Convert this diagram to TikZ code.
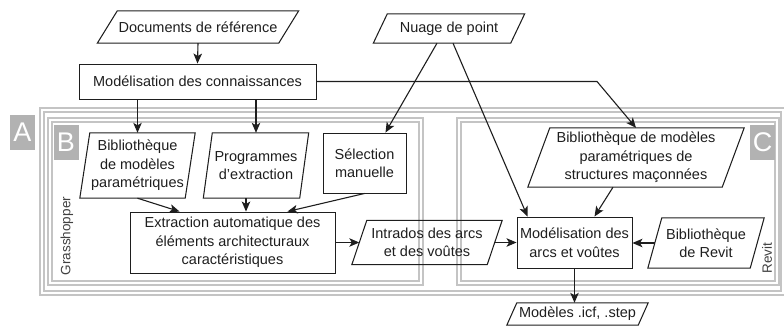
\documentclass[tikz,border=0pt]{standalone}
\usepackage{fontspec}
\setmainfont{Liberation Sans}
\usetikzlibrary{arrows.meta}
\definecolor{framegray}{HTML}{C4C4C4}
\definecolor{labgray}{HTML}{B2B2B2}
\definecolor{ink}{HTML}{1E1E1E}
\newcommand\parabox[2]{\draw[boxline] ([xshift=#2]#1.north west) -- ([xshift=#2]#1.north east) -- ([xshift=-#2]#1.south east) -- ([xshift=-#2]#1.south west) -- cycle;}
\tikzset{
  txt/.style={font=\fontsize{14.5}{18.5}\selectfont, text=ink, align=center, inner sep=0pt},
  pbox/.style={txt, rectangle, draw=none},
  rbox/.style={txt, rectangle, draw=ink, line width=0.95pt},
  boxline/.style={draw=ink, line width=1.05pt},
  conn/.style={draw=ink, line width=1.1pt, -{Stealth[length=10pt,width=8.5pt,inset=2.5pt]}},
  frame/.style={draw=framegray, line width=1.8pt, double=white, double distance=1.8pt},
  labbox/.style={fill=labgray, draw=none, text=white, font=\fontsize{27}{27}\selectfont, minimum width=25pt, minimum height=35pt, inner sep=0pt},
  sidelab/.style={font=\fontsize{13.5}{16}\selectfont, text=ink!85, rotate=90, inner sep=0pt}
}
\begin{document}
\begin{tikzpicture}[x=1pt,y=-1pt]
\useasboundingbox (0,0) rectangle (784,329);
% frames
\draw[frame] (42,110) rectangle (783,293);
\draw[frame] (50,120) rectangle (421,283);
\draw[frame] (459,120) rectangle (777,283);
\node[labbox] (labA) at (22.5,132) {A};
\node[labbox] (labB) at (66,142) {B};
\node[labbox] (labC) at (762.5,142) {C};
\node[sidelab] (gh) at (67,236) {Grasshopper};
\node[sidelab] (rv) at (767,258) {Revit};
% nodes
\node[pbox, minimum width=181pt, minimum height=32pt] (doc) at (198,27) {Documents de référence};
\parabox{doc}{10}
\node[pbox, minimum width=137pt, minimum height=29pt] (nuage) at (449,28.5) {Nuage de point};
\parabox{nuage}{7}
\node[rbox, minimum width=237pt, minimum height=35pt] (modcon) at (197.5,81.5) {Modélisation des connaissances};
\node[pbox, minimum width=105pt, minimum height=65pt] (bibl) at (137.5,165.5) {Bibliothèque\\de modèles\\paramétriques};
\parabox{bibl}{5}
\node[pbox, minimum width=96pt, minimum height=65pt] (prog) at (256,165.5) {Programmes\\d'extraction};
\parabox{prog}{4.5}
\node[rbox, minimum width=83pt, minimum height=60pt] (sel) at (364.5,163) {Sélection\\manuelle};
\node[rbox, minimum width=205pt, minimum height=61pt] (extr) at (232.5,242.5) {Extraction automatique des\\éléments architecturaux\\caractéristiques};
\node[pbox, minimum width=135pt, minimum height=44pt] (intr) at (427,242.5) {Intrados des arcs\\et des voûtes};
\parabox{intr}{7.5}
\node[rbox, minimum width=115pt, minimum height=51pt] (modarc) at (574.5,242.5) {Modélisation des\\arcs et voûtes};
\node[pbox, minimum width=102pt, minimum height=50pt] (revit) at (706,243) {Bibliothèque\\de Revit};
\parabox{revit}{7}
\node[pbox, minimum width=194pt, minimum height=59pt] (bibstr) at (636,157.5) {Bibliothèque de modèles\\paramétriques de\\structures maçonnées};
\parabox{bibstr}{11}
\node[pbox, minimum width=131pt, minimum height=22pt] (modeles) at (577.5,314) {Modèles .icf, .step};
\parabox{modeles}{5}
% connectors
\coordinate (k1) at (597,81.5);
\draw[conn] (doc.south) -- (modcon.north);
\draw[conn] (modcon.south -| bibl.north) -- (bibl.north);
\draw[conn] (modcon.south -| prog.north) -- (prog.north);
\draw[conn] (modcon.east) -- (k1) -- (bibstr.north);
\draw[conn] ([xshift=-12]nuage.south) -- ([xshift=-21]sel.north east);
\draw[conn] ([xshift=4]nuage.south) -- ([xshift=11]modarc.north west);
\draw[conn] (bibl.south) -- ([xshift=50]extr.north west);
\draw[conn] ([xshift=-10]prog.south) -- ([xshift=-10]prog.south |- extr.north);
\draw[conn] (sel.south) -- ([xshift=-48]extr.north east);
\draw[conn] (extr.east) -- (extr.east -| intr.west);
\draw[conn] (intr.east) -- (intr.east -| modarc.west);
\draw[conn] (revit.west) -- (revit.west -| modarc.east);
\draw[conn] ([xshift=-23]bibstr.south) -- ([xshift=20]modarc.north);
\draw[conn] (modarc.south) -- (modarc.south |- modeles.north);
\end{tikzpicture}
\end{document}
